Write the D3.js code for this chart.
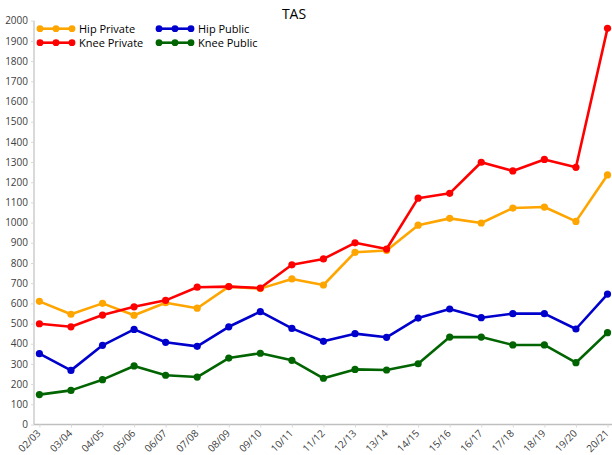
<!DOCTYPE html>
<html><head><meta charset="utf-8">
<script src="https://cdn.jsdelivr.net/npm/d3@7"></script>
<style>
body{margin:0;background:#fff;}
text{font-family:"Open Sans","Noto Sans",sans-serif;}
</style></head><body>
<svg id="c" width="612" height="455"></svg>
<script>
const categories=["02/03","03/04","04/05","05/06","06/07","07/08","08/09","09/10","10/11","11/12","12/13","13/14","14/15","15/16","16/17","17/18","18/19","19/20","20/21"];
const hipPrivate=[610,546,600,541,603,576,683,673,721,691,853,862,987,1021,998,1072,1077,1006,1236];
const kneePrivate=[499,484,542,583,615,680,683,676,791,820,900,869,1121,1145,1299,1256,1313,1274,1962];
const hipPublic=[351,268,392,471,407,387,484,559,476,412,450,432,527,572,529,549,549,473,646];
const kneePublic=[148,169,222,290,244,235,329,353,318,229,273,270,301,433,433,394,394,306,455];
const yTicks=d3.range(0,2001,100);
const seriesNames=["Hip Private","Knee Private","Hip Public","Knee Public"];
const seriesColors=["#FFA500","#FF0000","#0000CD","#006400"];
const seriesData=[hipPrivate,kneePrivate,hipPublic,kneePublic];

const svg=d3.select("#c");
const x=d3.scalePoint().domain(categories).range([39.4,607.5]);
const y=d3.scaleLinear().domain([0,2000]).range([424.5,20.7]);

// y axis
const ya=svg.append("g").attr("transform","translate(34,0)")
  .call(d3.axisLeft(y).tickValues(yTicks).tickSize(3).tickPadding(3).tickFormat(d3.format("d")));
ya.select(".domain").attr("stroke","#d9d9d9").attr("stroke-width",2).attr("d","M0,"+y(2000)+"V"+y(0));
ya.selectAll(".tick line").attr("stroke","#d9d9d9");
ya.selectAll(".tick text").attr("fill","#404040").style("font-size","10px");

// x axis
const xa=svg.append("g").attr("transform","translate(0,424.5)")
  .call(d3.axisBottom(x).tickSize(3).tickPadding(3));
xa.select(".domain").attr("stroke","#bfbfbf").attr("stroke-width",1.3).attr("d","M34,0H612");
xa.selectAll(".tick line").attr("stroke","#d9d9d9");
xa.selectAll(".tick text").attr("fill","#404040").style("font-size","10px")
  .attr("text-anchor","end").attr("x",0).attr("y",0).attr("dy","0.35em")
  .attr("transform","translate(-1,7) rotate(-45)");

// lines
const line=d3.line().x((d,i)=>x(categories[i])).y(d=>y(d));
seriesData.forEach((s,k)=>{
  const g=svg.append("g");
  g.append("path").datum(s).attr("d",line).attr("fill","none")
   .attr("stroke",seriesColors[k]).attr("stroke-width",2.6).attr("stroke-linejoin","round");
  g.selectAll("circle").data(s).join("circle")
   .attr("cx",(d,i)=>x(categories[i])).attr("cy",d=>y(d)).attr("r",3.6).attr("fill",seriesColors[k]);
});

// title
svg.append("text").attr("x",294).attr("y",19).attr("text-anchor","middle")
  .attr("fill","#000").style("font-size","14px").text("TAS");

// legend
const legPos=[[40,28.7],[40,42.7],[159,28.7],[159,42.7]];
seriesNames.forEach((n,k)=>{
  const [lx,ly]=legPos[k];
  const g=svg.append("g");
  g.append("line").attr("x1",lx).attr("x2",lx+32).attr("y1",ly).attr("y2",ly)
   .attr("stroke",seriesColors[k]).attr("stroke-width",2.6);
  [0,16,32].forEach(o=>g.append("circle").attr("cx",lx+o).attr("cy",ly).attr("r",3.4).attr("fill",seriesColors[k]));
  g.append("text").attr("x",lx+39).attr("y",ly).attr("dy","0.35em")
   .attr("fill","#000").style("font-size","11px").text(n);
});
</script></body></html>
